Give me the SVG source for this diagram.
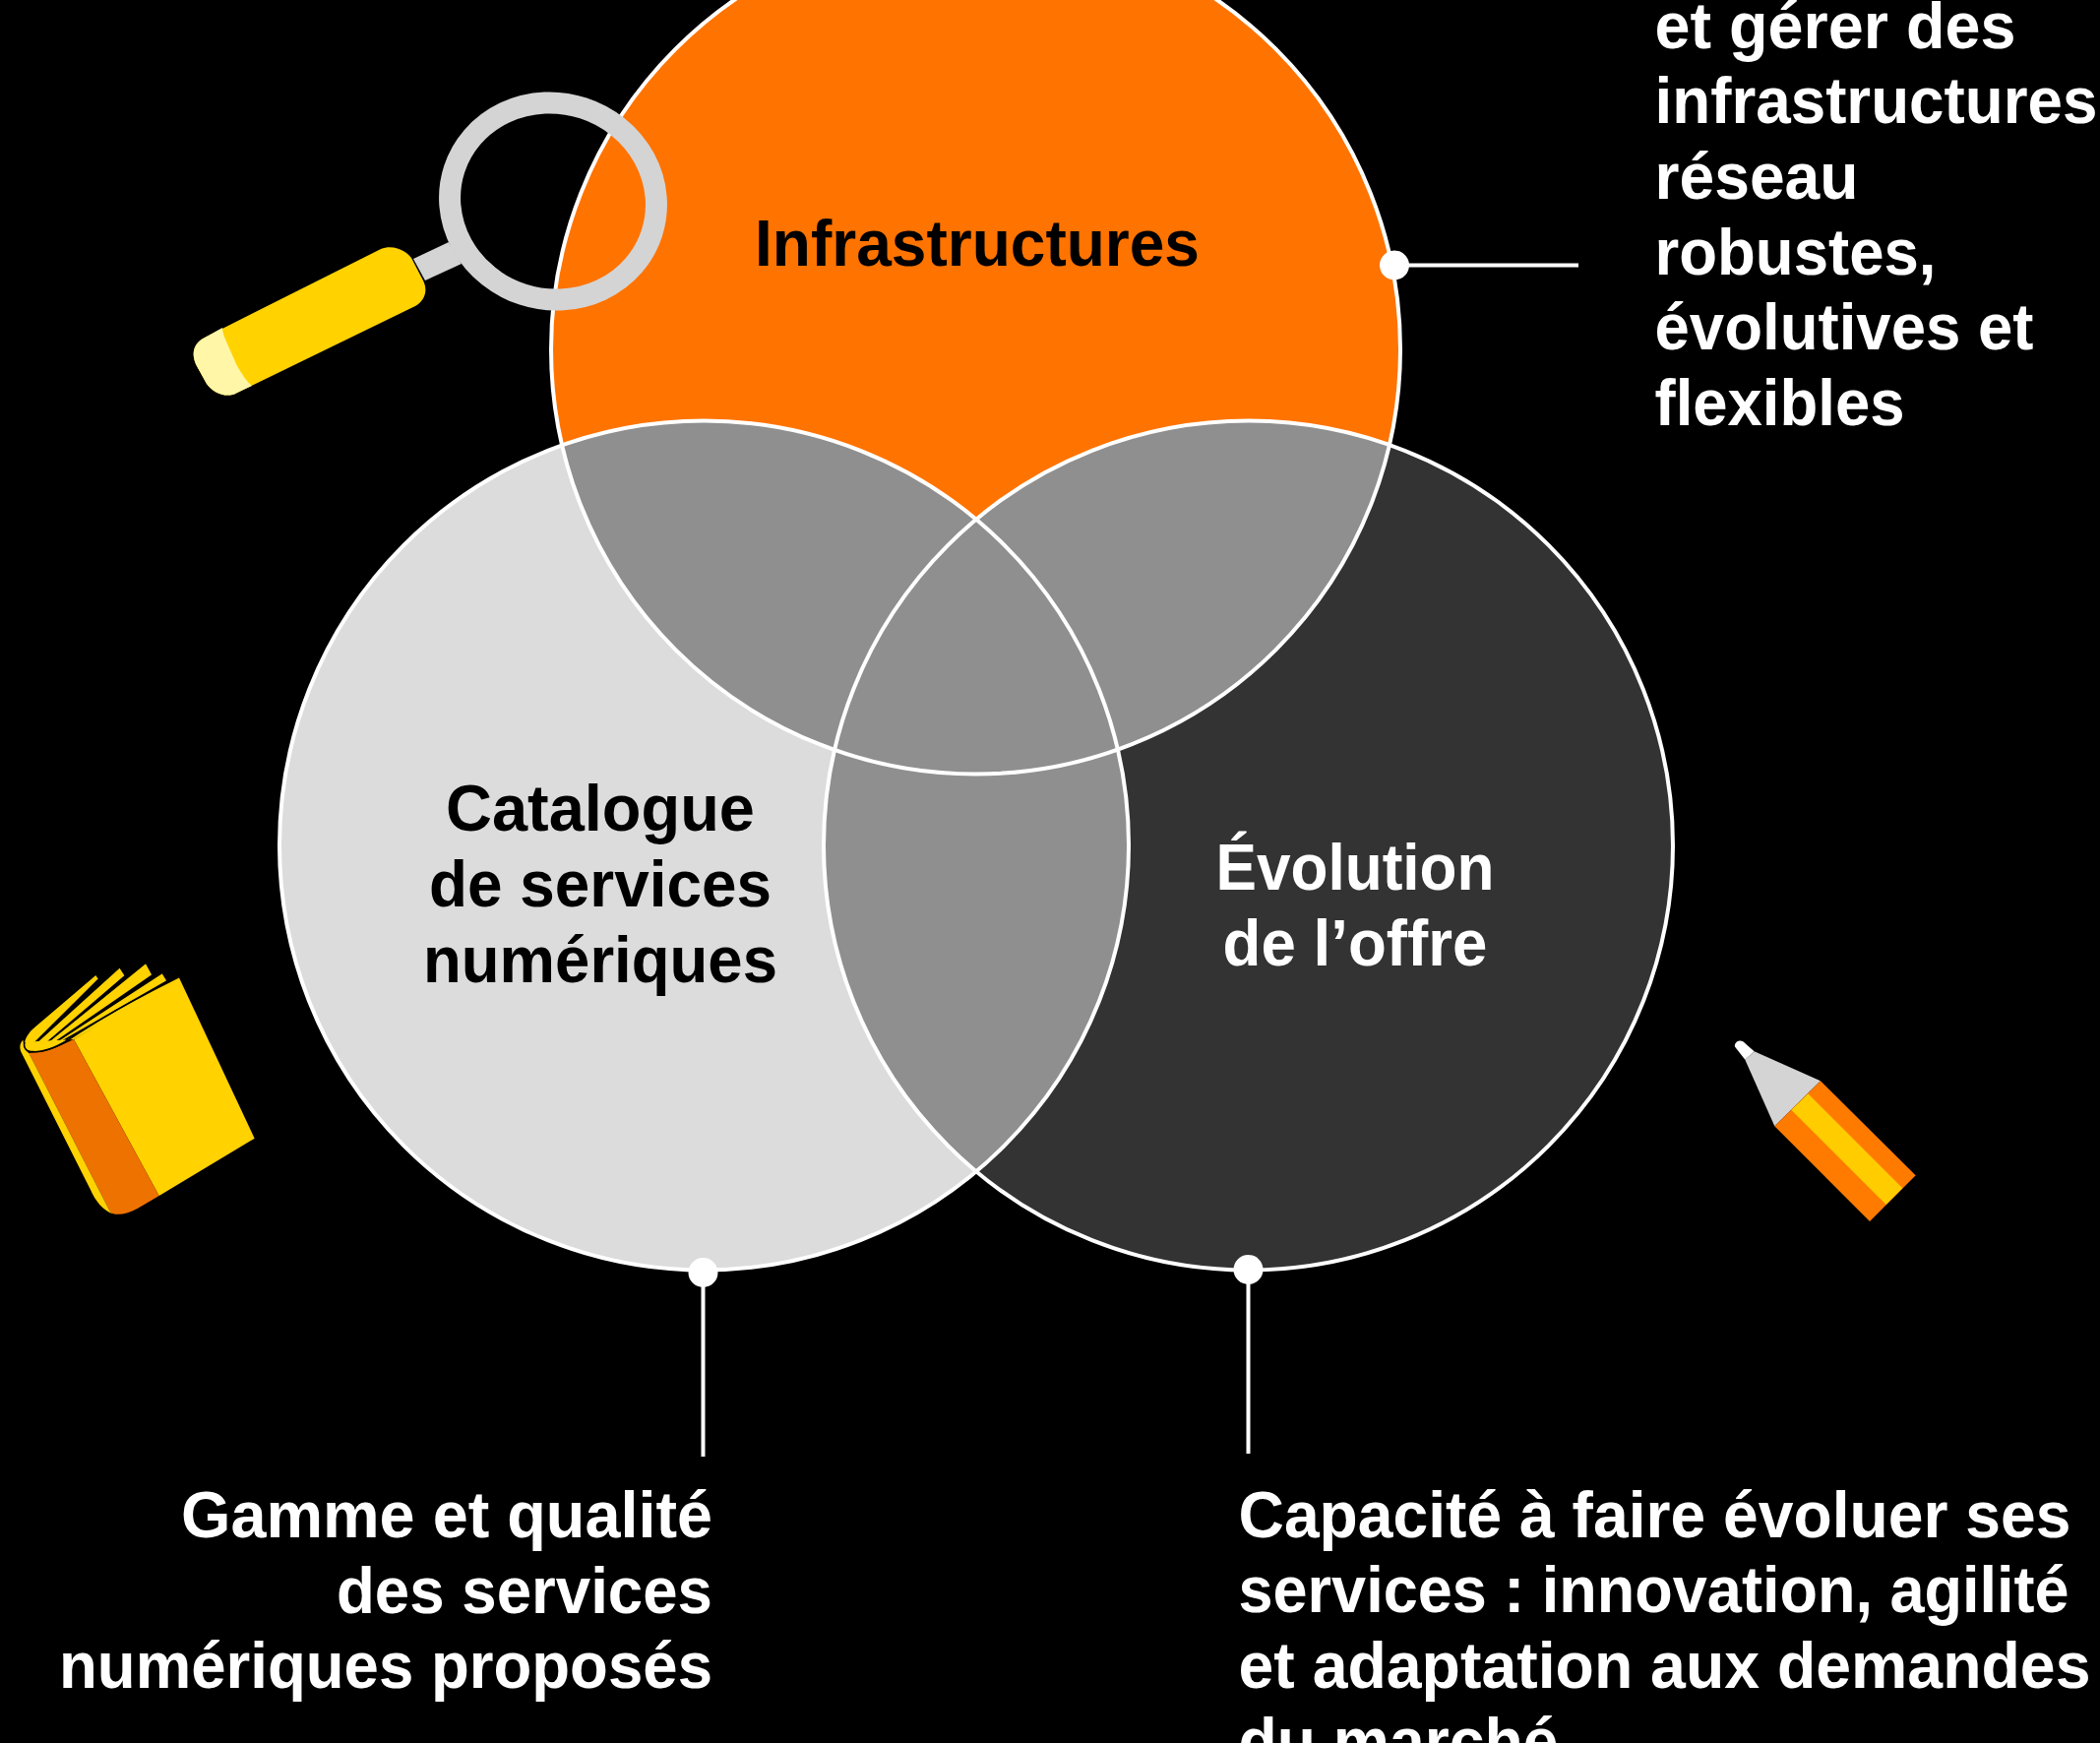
<svg xmlns="http://www.w3.org/2000/svg" width="2134" height="1771" viewBox="0 0 2134 1771">
<defs>
<style>
text{font-family:"Liberation Sans",Arial,sans-serif;font-weight:700;font-size:66px}
.w{fill:#fff}.k{fill:#000}
.ol{fill:none;stroke:#fff;stroke-width:4}
.ln{stroke:#fff;stroke-width:4;fill:none}
.y{fill:#ffd200}.pg{fill:#ffd200;stroke:#000;stroke-width:4;stroke-linejoin:round}
</style>
<clipPath id="cT"><circle cx="991.500" cy="355" r="431.500"/></clipPath>
<clipPath id="cL"><circle cx="715.500" cy="859" r="431.500"/></clipPath>
<clipPath id="cR"><circle cx="1268.500" cy="859" r="431.500"/></clipPath>
</defs>
<rect width="2134" height="1771" fill="#000"/>
<g id="venn-fills">
<circle cx="991.500" cy="355" r="431.500" fill="#ff7300"/>
<circle cx="715.500" cy="859" r="431.500" fill="#dcdcdc"/>
<circle cx="1268.500" cy="859" r="431.500" fill="#333333"/>
<g clip-path="url(#cT)"><circle cx="715.500" cy="859" r="431.500" fill="#8f8f8f"/><circle cx="1268.500" cy="859" r="431.500" fill="#8f8f8f"/></g>
<g clip-path="url(#cL)"><circle cx="1268.500" cy="859" r="431.500" fill="#8f8f8f"/></g>
</g>
<g id="node-infrastructures">
<circle class="ol" cx="991.500" cy="355" r="431.500"/>
<text class="k" x="767" y="269.500" textLength="452" lengthAdjust="spacingAndGlyphs">Infrastructures</text>
</g>
<g id="node-catalogue">
<circle class="ol" cx="715.500" cy="859" r="431.500"/>
<text class="k" x="453" y="844" textLength="314" lengthAdjust="spacingAndGlyphs">Catalogue</text>
<text class="k" x="436" y="921" textLength="348" lengthAdjust="spacingAndGlyphs">de services</text>
<text class="k" x="430" y="997.500" textLength="360" lengthAdjust="spacingAndGlyphs">numériques</text>
</g>
<g id="node-evolution">
<circle class="ol" cx="1268.500" cy="859" r="431.500"/>
<text class="w" x="1235.500" y="904" textLength="283" lengthAdjust="spacingAndGlyphs">Évolution</text>
<text class="w" x="1242.500" y="980.500" textLength="269" lengthAdjust="spacingAndGlyphs">de l’offre</text>
</g>
<g id="connectors">
<path class="ln" d="M1417 269.500H1604"/>
<path class="ln" d="M714.500 1293V1480"/>
<path class="ln" d="M1268.500 1290V1477"/>
<circle cx="1417" cy="269.500" r="15" fill="#fff"/>
<circle cx="714.500" cy="1293" r="15" fill="#fff"/>
<circle cx="1268.500" cy="1290" r="15" fill="#fff"/>
</g>
<g id="label-infrastructures">
<text class="w" x="1681.500" y="48.500" textLength="367" lengthAdjust="spacingAndGlyphs">et gérer des</text>
<text class="w" x="1681.500" y="125.200" textLength="450" lengthAdjust="spacingAndGlyphs">infrastructures</text>
<text class="w" x="1681.500" y="201.900" textLength="207" lengthAdjust="spacingAndGlyphs">réseau</text>
<text class="w" x="1681.500" y="278.600" textLength="286" lengthAdjust="spacingAndGlyphs">robustes,</text>
<text class="w" x="1681.500" y="355.300" textLength="385" lengthAdjust="spacingAndGlyphs">évolutives et</text>
<text class="w" x="1681.500" y="432" textLength="254" lengthAdjust="spacingAndGlyphs">flexibles</text>
</g>
<g id="label-catalogue">
<text class="w" x="184" y="1562" textLength="540" lengthAdjust="spacingAndGlyphs">Gamme et qualité</text>
<text class="w" x="342" y="1638.700" textLength="382" lengthAdjust="spacingAndGlyphs">des services</text>
<text class="w" x="60" y="1715.400" textLength="664" lengthAdjust="spacingAndGlyphs">numériques proposés</text>
</g>
<g id="label-evolution">
<text class="w" x="1258.500" y="1561.700" textLength="846" lengthAdjust="spacingAndGlyphs">Capacité à faire évoluer ses</text>
<text class="w" x="1258.500" y="1638.400" textLength="844" lengthAdjust="spacingAndGlyphs">services : innovation, agilité</text>
<text class="w" x="1258.500" y="1715" textLength="866" lengthAdjust="spacingAndGlyphs">et adaptation aux demandes</text>
<text class="w" x="1258.500" y="1791.700" textLength="325" lengthAdjust="spacingAndGlyphs">du marché</text>
</g>
<g id="magnifier">
<path d="M456 246L420 263L432 285L469 268Z" fill="#d4d4d4"/>
<ellipse cx="562" cy="204.500" rx="105.500" ry="99.500" transform="rotate(18 562 204.500)" fill="none" stroke="#d4d4d4" stroke-width="22"/>
<path class="y" d="M387 253C397 249 410 252 418 262L430 285C435 295 432 305 422 311L241 399C231 405 217 400 210 390L200 372C193 358 198 348 208 343Z"/>
<path d="M226 333L208 343C198 348 193 358 200 372L210 390C217 400 231 405 241 399L256 392C250 387 246 380 241 372L230 347C228 342 226 338 226 333Z" fill="#fff6a8"/>
</g>
<g id="book" transform="translate(0 960) scale(.33333)">
<path d="M75 310C72 285 92 262 115 244L292 93L300 106L85 322Z" fill="#ffd200"/>
<path d="M85 320L300 106" stroke="#000" stroke-width="5" fill="none"/>
<path class="pg" d="M85 322L365 68L382 94L115 322Z"/>
<path class="pg" d="M115 322L445 55L465 92L130 323Z"/>
<path class="pg" d="M130 323L495 85L510 110L140 322Z"/>
<path d="M75 296C72 312 80 325 100 326C120 327 150 320 190 298C300 230 440 150 545 98L545 105L225 288Z" class="y"/>
<path d="M545 98L776 590L485 765L225 288Z" class="y"/>
<path d="M88 330C105 328 120 328 135 324C165 318 195 302 225 288L485 765L420 803C395 818 365 825 345 820L335 812Z" fill="#ee7200"/>
<path d="M70 290C60 300 58 315 66 330L275 745C290 780 315 812 345 820L335 812L88 330C80 325 72 310 70 290Z" class="y"/>
<path d="M75 296C70 315 80 326 100 326C130 328 165 315 195 298C300 228 440 150 545 98" fill="none" stroke="#000" stroke-width="5"/>
</g>
<g id="pencil" transform="translate(1740 1040) scale(.33333)">
<path d="M100 110L70 72C64 60 80 46 94 55L128 85Z" fill="#fff"/>
<path d="M100 110L128 85L330 175L190 313Z" fill="#d4d4d4"/>
<path d="M330 175L620 463L480 603L190 313Z" fill="#ff7b00"/>
<path d="M292 214L580 502L530 552L241 263Z" fill="#ffcc00"/>
</g>
</svg>
